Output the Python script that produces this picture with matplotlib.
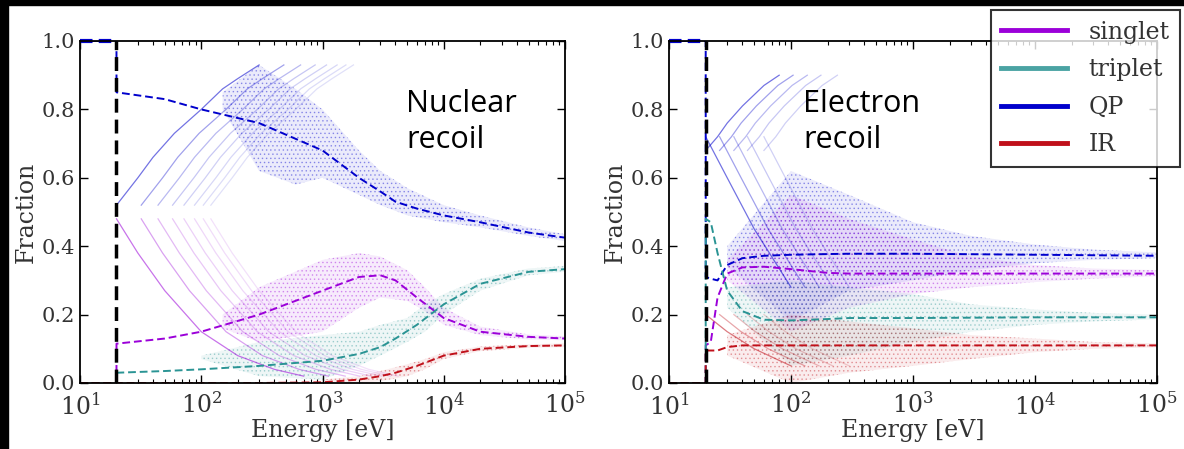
import numpy as np
import matplotlib.pyplot as plt
from matplotlib.colors import to_rgb
from matplotlib.patches import Rectangle
from matplotlib.lines import Line2D

plt.rcParams['font.family'] = 'DejaVu Serif'
plt.rcParams['mathtext.fontset'] = 'dejavuserif'
plt.rcParams['hatch.linewidth'] = 0.6

# colours
c_sing = '#9b00d9'
c_trip = '#2a9494'
c_qp = '#0000cc'
c_ir = '#c0101a'

# ---------------- Nuclear recoil: mean curves ----------------
nr_E = [10, 19.99, 20, 50, 100, 300, 1000, 2000, 3000, 4000, 6000, 1e4, 2e4, 5e4, 1e5]
nr_qp = [1.0, 1.0, 0.85, 0.83, 0.80, 0.76, 0.68, 0.60, 0.56, 0.53, 0.51, 0.49, 0.47, 0.44, 0.425]
nr_sing = [0, 0, 0.115, 0.13, 0.15, 0.20, 0.27, 0.31, 0.315, 0.30, 0.25, 0.19, 0.15, 0.135, 0.13]
nr_trip = [0, 0, 0.03, 0.035, 0.04, 0.05, 0.065, 0.085, 0.105, 0.13, 0.17, 0.23, 0.29, 0.325, 0.333]
nr_ir = [0, 0, 0, 0, 0, 0, 0.002, 0.01, 0.02, 0.03, 0.05, 0.08, 0.10, 0.108, 0.11]

# scatter spread (energy, lower, upper) for nuclear recoil
nr_qp_bE = [150, 300, 600, 1000, 2000, 3000, 5000, 1e4, 2e4, 5e4, 1e5]
nr_qp_lo = [0.80, 0.62, 0.58, 0.60, 0.55, 0.52, 0.49, 0.47, 0.455, 0.43, 0.415]
nr_qp_hi = [0.85, 0.93, 0.86, 0.80, 0.68, 0.62, 0.57, 0.52, 0.49, 0.455, 0.435]
nr_sing_bE = [150, 300, 1000, 2000, 3000, 5000, 7000, 1e4, 2e4, 5e4, 1e5]
nr_sing_lo = [0.16, 0.12, 0.15, 0.22, 0.25, 0.24, 0.21, 0.17, 0.14, 0.127, 0.125]
nr_sing_hi = [0.20, 0.28, 0.36, 0.38, 0.37, 0.33, 0.28, 0.22, 0.165, 0.142, 0.137]
nr_trip_bE = [100, 300, 1000, 2000, 3000, 5000, 7000, 1e4, 2e4, 5e4, 1e5]
nr_trip_lo = [0.07, 0.02, 0.01, 0.05, 0.08, 0.12, 0.15, 0.20, 0.27, 0.315, 0.325]
nr_trip_hi = [0.08, 0.12, 0.14, 0.15, 0.17, 0.19, 0.23, 0.26, 0.305, 0.335, 0.342]
nr_ir_bE = [1000, 2000, 3000, 5000, 7000, 1e4, 2e4, 5e4, 1e5]
nr_ir_lo = [0, 0, 0.005, 0.02, 0.04, 0.07, 0.093, 0.103, 0.105]
nr_ir_hi = [0.01, 0.02, 0.035, 0.055, 0.07, 0.09, 0.107, 0.113, 0.116]

# discrete streaks at low energy (first streak; later ones start at higher energy)
nr_streak_up_E = [20, 30, 40, 60, 100, 150, 200, 300]
nr_streak_up_f = [0.52, 0.60, 0.66, 0.73, 0.80, 0.86, 0.89, 0.93]
nr_streak_dn_E = [20, 30, 50, 100, 200, 400, 700]
nr_streak_dn_f = [0.48, 0.38, 0.27, 0.15, 0.08, 0.04, 0.02]
nr_streak_mult = [1, 1.6, 2.2, 2.9, 3.6, 4.4, 5.2, 6.0]

# ---------------- Electron recoil: mean curves ----------------
er_E = [10, 19.99, 20, 22, 25, 30, 40, 60, 100, 200, 300, 1000, 1e4, 1e5]
er_qp = [1.0, 1.0, 0.31, 0.305, 0.30, 0.345, 0.365, 0.372, 0.375, 0.377, 0.378, 0.378, 0.375, 0.372]
er_sing = [0, 0, 0.11, 0.12, 0.25, 0.32, 0.338, 0.34, 0.333, 0.322, 0.32, 0.32, 0.32, 0.32]
er_trip = [0, 0, 0.48, 0.47, 0.38, 0.27, 0.21, 0.185, 0.183, 0.187, 0.19, 0.19, 0.192, 0.192]
er_ir = [0, 0, 0.095, 0.095, 0.095, 0.105, 0.11, 0.11, 0.11, 0.11, 0.11, 0.11, 0.11, 0.11]

er_bE = [30, 100, 300, 1000, 3000, 1e4, 3e4, 1e5]
er_qp_lo = [0.34, 0.18, 0.27, 0.30, 0.33, 0.35, 0.36, 0.365]
er_qp_hi = [0.40, 0.62, 0.55, 0.47, 0.43, 0.405, 0.39, 0.382]
er_sing_lo = [0.30, 0.15, 0.22, 0.26, 0.28, 0.295, 0.305, 0.312]
er_sing_hi = [0.36, 0.55, 0.48, 0.42, 0.37, 0.345, 0.335, 0.33]
er_trip_lo = [0.22, 0.05, 0.08, 0.12, 0.15, 0.17, 0.18, 0.186]
er_trip_hi = [0.28, 0.30, 0.28, 0.26, 0.23, 0.215, 0.205, 0.20]
er_ir_lo = [0.08, 0.0, 0.03, 0.05, 0.07, 0.09, 0.1, 0.104]
er_ir_hi = [0.14, 0.20, 0.18, 0.16, 0.14, 0.13, 0.12, 0.116]

er_streak_up_E = [20, 25, 30, 40, 60, 80]
er_streak_up_f = [0.68, 0.72, 0.76, 0.81, 0.87, 0.90]
er_streak_dn_E = [20, 30, 50, 100]
er_streak_dn_f = [0.20, 0.15, 0.10, 0.05]
er_streak_qdn_E = [20, 30, 50, 100]
er_streak_qdn_f = [0.72, 0.60, 0.45, 0.28]
er_streak_mult = [1, 1.3, 1.7, 2.2, 3]

threshold = 20

fig = plt.figure(figsize=(11.84, 4.49), dpi=100)
ax1 = fig.add_axes([80 / 1184, 66 / 449, 485 / 1184, 342 / 449])
ax2 = fig.add_axes([669 / 1184, 66 / 449, 488 / 1184, 342 / 449])


def draw(ax, E, curves, bands, streaks):
    for bE, lo, hi, c in bands:
        ax.fill_between(bE, lo, hi, facecolor=(*to_rgb(c), 0.08),
                        edgecolor=(*to_rgb(c), 0.32), hatch='....', lw=0)
    for sx, sy, mult, c in streaks:
        for i, k in enumerate(mult):
            ax.plot(np.array(sx) * k, sy, color=c, lw=0.9, alpha=0.55 / (1 + 0.5 * i))
    for f, c in curves:
        ax.plot(E, f, color=c, lw=1.4, ls=(0, (4, 2)))
    ax.plot([threshold, threshold], [0, 1], color='k', lw=2.5, ls=(0, (4, 2)))
    ax.plot([10, threshold], [1, 1], color=c_qp, lw=3, ls=(0, (3, 1.5)), clip_on=False)
    ax.set_xscale('log')
    ax.set_xlim(10, 1e5)
    ax.set_ylim(0, 1)
    ax.set_yticks([0, 0.2, 0.4, 0.6, 0.8, 1.0])
    ax.set_yticklabels(['0.0', '0.2', '0.4', '0.6', '0.8', '1.0'])
    ax.tick_params(which='both', direction='in', top=True, right=True, labelsize=15,
                   labelcolor='#333333')
    ax.tick_params(axis='x', labelsize=17, pad=7)
    ax.tick_params(which='major', length=6, width=1)
    ax.tick_params(which='minor', length=3, width=0.8)
    for s in ax.spines.values():
        s.set_linewidth(1.3)
    ax.set_xlabel('Energy [eV]', fontsize=17, color='#333333', labelpad=0)
    ax.set_ylabel('Fraction', fontsize=17, color='#333333', labelpad=3)


draw(ax1, nr_E,
     [(nr_qp, c_qp), (nr_sing, c_sing), (nr_trip, c_trip), (nr_ir, c_ir)],
     [(nr_qp_bE, nr_qp_lo, nr_qp_hi, c_qp), (nr_sing_bE, nr_sing_lo, nr_sing_hi, c_sing),
      (nr_trip_bE, nr_trip_lo, nr_trip_hi, c_trip), (nr_ir_bE, nr_ir_lo, nr_ir_hi, c_ir)],
     [(nr_streak_up_E, nr_streak_up_f, nr_streak_mult, c_qp),
      (nr_streak_dn_E, nr_streak_dn_f, nr_streak_mult, c_sing)])

draw(ax2, er_E,
     [(er_qp, c_qp), (er_sing, c_sing), (er_trip, c_trip), (er_ir, c_ir)],
     [(er_bE, er_qp_lo, er_qp_hi, c_qp), (er_bE, er_sing_lo, er_sing_hi, c_sing),
      (er_bE, er_trip_lo, er_trip_hi, c_trip), (er_bE, er_ir_lo, er_ir_hi, c_ir)],
     [(er_streak_up_E, er_streak_up_f, er_streak_mult, c_qp),
      (er_streak_qdn_E, er_streak_qdn_f, er_streak_mult, c_qp),
      (er_streak_dn_E, er_streak_dn_f, er_streak_mult, c_ir)])

ax1.text(0.672, 0.86, 'Nuclear\nrecoil', transform=ax1.transAxes, family='Open Sans',
         fontsize=22, va='top', ha='left', linespacing=1.25)
ax2.text(0.275, 0.86, 'Electron\nrecoil', transform=ax2.transAxes, family='Open Sans',
         fontsize=22, va='top', ha='left', linespacing=1.25)

handles = [Line2D([], [], color=c_sing, lw=3.5),
           Line2D([], [], color='#4aa3a3', lw=3.5),
           Line2D([], [], color=c_qp, lw=3.5),
           Line2D([], [], color=c_ir, lw=3.5)]
leg = fig.legend(handles, ['singlet', 'triplet', 'QP', 'IR'], loc='upper right',
                 bbox_to_anchor=(0.997, 0.978), fontsize=17, frameon=True,
                 fancybox=False, handlelength=2.8, borderpad=0.45, labelspacing=0.62,
                 handletextpad=0.9, borderaxespad=0)
leg.get_frame().set_edgecolor('k')
leg.get_frame().set_linewidth(1.5)
for t in leg.get_texts():
    t.set_color('#333333')

# black slide border on the left and top
fig.patches.append(Rectangle((0, 0), 8 / 1184, 1, transform=fig.transFigure, color='k'))
fig.patches.append(Rectangle((0, 1 - 5 / 449), 1, 5 / 449, transform=fig.transFigure, color='k'))

fig.savefig('out.png', dpi=100)
